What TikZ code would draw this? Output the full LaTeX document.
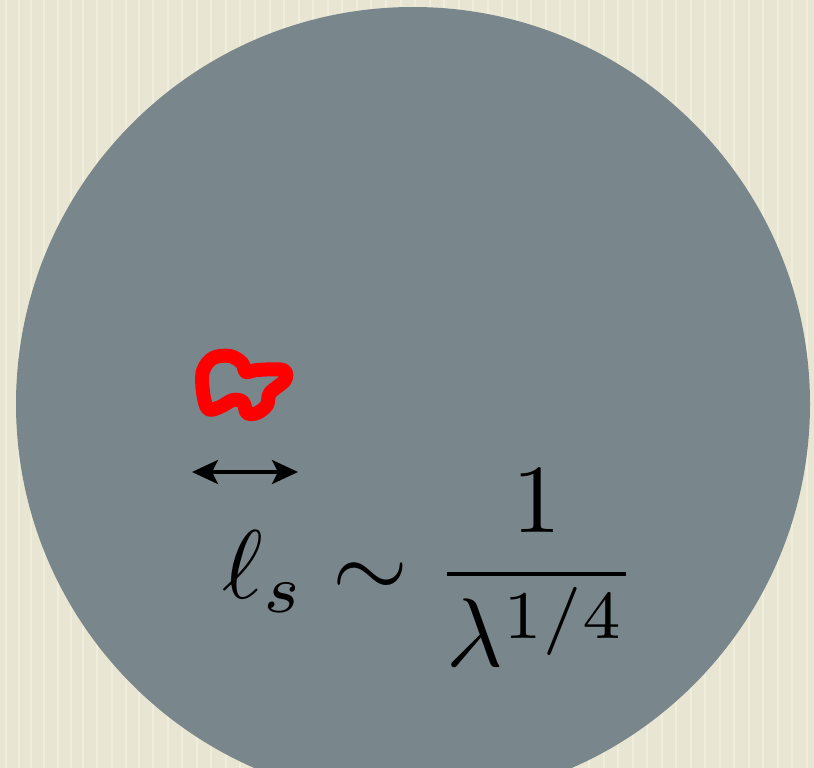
\documentclass[tikz,border=0pt]{standalone}
\usetikzlibrary{arrows.meta}
\definecolor{paper}{RGB}{232,230,210}
\definecolor{paperline}{RGB}{244,243,228}
\definecolor{disc}{RGB}{121,134,140}
\definecolor{blobred}{RGB}{255,0,0}
\tikzset{
  blobline/.style={draw=blobred, line width=14pt, line join=round, line cap=round},
  scalearrow/.style={line width=3.5pt, {Stealth[length=26pt,width=24pt,inset=6pt]}-{Stealth[length=26pt,width=24pt,inset=6pt]}},
  formula/.style={scale=9.75, inner sep=0pt, anchor=base west}
}
\begin{document}
\begin{tikzpicture}[x=1pt,y=-1pt]
  \fill[paper] (0,0) rectangle (814,768);
  \useasboundingbox (0,0) rectangle (814,768);
  \foreach \xx in {6,19,31,44,58,71,83,97,112,126,139,153,168,182,197,211,226,240,255,270,284,299,313,328,342,357,371,386,401,415,430,444,459,473,488,502,517,531,546,560,575,589,604,618,633,647,662,676,691,705,720,734,749,763,778,792,807}
    \draw[paperline, line width=2pt, opacity=0.6] (\xx,0) -- (\xx,768);
  \fill[disc] (413,404) circle (397);
  \draw[blobline] plot[smooth cycle, tension=0.55] coordinates {
    (203,392) (203,371) (213,358) (230,356) (242,363) (246,372) (257,370) (283,370)
    (285,380) (270,393) (267,405) (257,413) (247,413) (243,402) (233,400) (220,407) (208,409)};
  \coordinate (al) at (192,472);
  \coordinate (ar) at (298,472);
  \draw[scalearrow] (al) -- (ar);
  \node[formula] (eq) at (221,598) {$\ell_s \sim {\displaystyle\frac{1}{\lambda^{1/4}}}$};
\end{tikzpicture}
\end{document}
